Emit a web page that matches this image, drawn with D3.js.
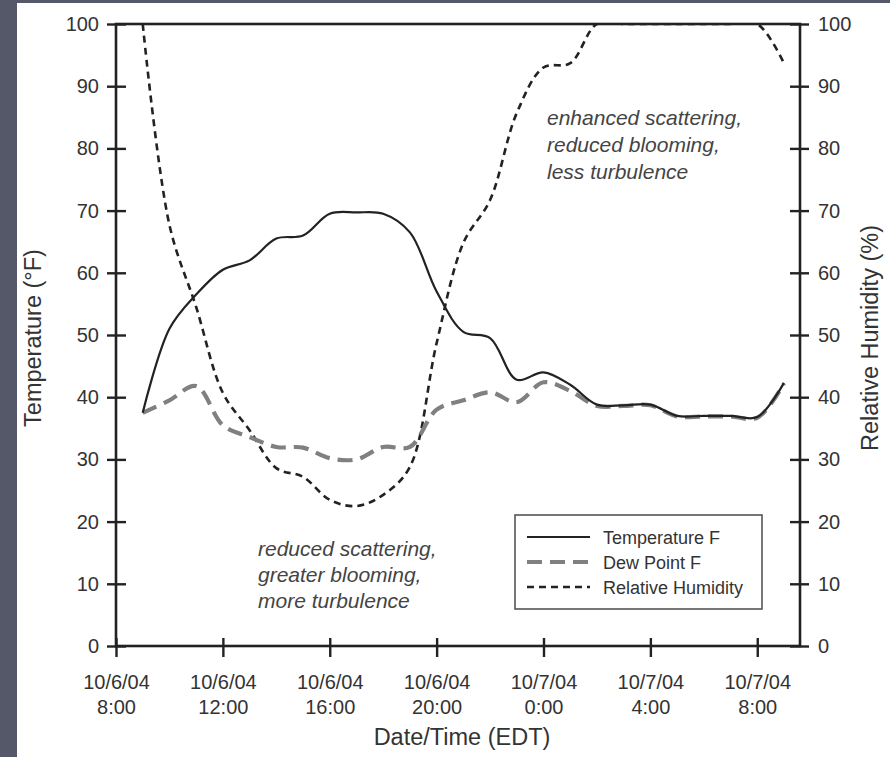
<!DOCTYPE html>
<html><head><meta charset="utf-8">
<script src="https://cdn.jsdelivr.net/npm/d3@7"></script>
<style>body{margin:0;background:#fff;} svg{display:block;font-family:"Liberation Sans",Arial,sans-serif;}</style>
</head><body>
<svg id="c" width="890" height="757"></svg>
<script>
// ---- data ----
const times = ["2004-10-06T09:00","2004-10-06T10:00","2004-10-06T11:00","2004-10-06T12:00","2004-10-06T13:00","2004-10-06T14:00","2004-10-06T15:00","2004-10-06T16:00","2004-10-06T17:00","2004-10-06T18:00","2004-10-06T19:00","2004-10-06T20:00","2004-10-06T21:00","2004-10-06T22:00","2004-10-06T23:00","2004-10-07T00:00","2004-10-07T01:00","2004-10-07T02:00","2004-10-07T03:00","2004-10-07T04:00","2004-10-07T05:00","2004-10-07T06:00","2004-10-07T07:00","2004-10-07T08:00","2004-10-07T09:00"];
const temperatureF = [37.5,51,56.5,60.5,62,65.5,66,69.5,69.7,69.5,66.5,57,50.5,49.5,42.8,44,42,38.8,38.7,38.8,37,37,37,36.8,42.3];
const dewPointF    = [37.5,39.5,41.8,35.5,33.6,32,31.9,30.2,30,32,32,38,39.5,40.8,39.2,42.4,41,38.6,38.6,38.7,36.9,36.9,36.9,36.7,42.2];
const relHumidity  = [100,67.7,54.5,40.7,34.7,28.6,27.2,23.5,22.5,24.3,28.8,48.7,64.8,71.7,85.7,93,93.7,100,100,100,100,100,100,100,93.7];
const yTicks = [0,10,20,30,40,50,60,70,80,90,100];
const xTickTimes = ["2004-10-06T08:00","2004-10-06T12:00","2004-10-06T16:00","2004-10-06T20:00","2004-10-07T00:00","2004-10-07T04:00","2004-10-07T08:00"];
const xDomain = ["2004-10-06T08:00","2004-10-07T09:36"];
const seriesNames = ["Temperature F","Dew Point F","Relative Humidity"];
const notesHigh = ["enhanced scattering,","reduced blooming,","less turbulence"];
const notesLow = ["reduced scattering,","greater blooming,","more turbulence"];

// ---- drawing ----
const parse = d3.timeParse("%Y-%m-%dT%H:%M");
const svg = d3.select("#c");
svg.append("rect").attr("width",890).attr("height",757).attr("fill","#555869");
svg.append("rect").attr("x",17).attr("y",3).attr("width",873).attr("height",754).attr("fill","#fff");

const L=116,R=800,T=24,B=646;
const x = d3.scaleTime().domain(xDomain.map(parse)).range([L,R]);
const y = d3.scaleLinear().domain([0,100]).range([B,T]);
const y2 = d3.scaleLinear().domain([0,100]).range([B,T]);
const txt = "#333";

svg.append("clipPath").attr("id","clip").append("rect").attr("x",L).attr("y",T).attr("width",R-L).attr("height",B-T);

const mk = arr => times.map((t,i)=>({t:parse(t),v:arr[i]}));
const lineL = d3.line().x(d=>x(d.t)).y(d=>y(d.v)).curve(d3.curveCatmullRom.alpha(0.5));
const lineR = d3.line().x(d=>x(d.t)).y(d=>y2(d.v)).curve(d3.curveCatmullRom.alpha(0.5));
const g = svg.append("g").attr("clip-path","url(#clip)");
g.append("path").datum(mk(relHumidity)).attr("d",lineR).attr("fill","none").attr("stroke","#222").attr("stroke-width",2.6).attr("stroke-dasharray","7,5");
g.append("path").datum(mk(dewPointF)).attr("d",lineL).attr("fill","none").attr("stroke","#808080").attr("stroke-width",4.2).attr("stroke-dasharray","15,8");
g.append("path").datum(mk(temperatureF)).attr("d",lineL).attr("fill","none").attr("stroke","#222").attr("stroke-width",2.2);

// frame
svg.append("rect").attr("x",L).attr("y",T).attr("width",R-L).attr("height",B-T).attr("fill","none").attr("stroke","#222").attr("stroke-width",2.6);

// left axis
const ax = svg.append("g").attr("transform",`translate(${L},0)`)
  .call(d3.axisLeft(y).tickValues(yTicks).tickSize(9).tickPadding(8));
ax.select(".domain").remove();
ax.selectAll(".tick line").attr("x2",-9).attr("x1",10).attr("stroke","#222").attr("stroke-width",2.4);
ax.selectAll(".tick text").attr("font-size",20).attr("fill",txt).attr("font-family","Liberation Sans, Arial");
// right axis
const ar = svg.append("g").attr("transform",`translate(${R},0)`)
  .call(d3.axisRight(y2).tickValues(yTicks).tickSize(9).tickPadding(9));
ar.select(".domain").remove();
ar.selectAll(".tick line").attr("x1",-10).attr("x2",9).attr("stroke","#222").attr("stroke-width",2.4);
ar.selectAll(".tick text").attr("font-size",20).attr("fill",txt).attr("font-family","Liberation Sans, Arial");
// bottom axis
const fmt1 = d3.timeFormat("%-m/%-d/%y"), fmt2 = d3.timeFormat("%-H:%M");
const ab = svg.append("g").attr("transform",`translate(0,${B})`)
  .call(d3.axisBottom(x).tickValues(xTickTimes.map(parse)).tickSize(11).tickFormat(""));
ab.select(".domain").remove();
ab.selectAll(".tick line").attr("y1",-8).attr("stroke","#222").attr("stroke-width",2.4);
ab.selectAll(".tick").each(function(d){
  const t = d3.select(this).append("text").attr("fill",txt).attr("font-size",20).attr("text-anchor","middle").attr("font-family","Liberation Sans, Arial");
  t.append("tspan").attr("x",0).attr("y",43).text(fmt1(d));
  t.append("tspan").attr("x",0).attr("y",68).text(fmt2(d));
});

// axis titles
svg.append("text").attr("x",(L+R)/2+4).attr("y",745).attr("text-anchor","middle").attr("font-size",23.5).attr("fill",txt).text("Date/Time (EDT)");
svg.append("text").attr("transform","translate(41,338) rotate(-90)").attr("text-anchor","middle").attr("font-size",23.5).attr("fill",txt).text("Temperature (°F)");
svg.append("text").attr("transform","translate(878,338) rotate(-90)").attr("text-anchor","middle").attr("font-size",23.5).attr("fill",txt).text("Relative Humidity (%)");

// annotations
notesHigh.forEach((s,i)=>svg.append("text").attr("x",547).attr("y",125+i*27).attr("font-size",21).attr("font-style","italic").attr("fill","#444").text(s));
notesLow.forEach((s,i)=>svg.append("text").attr("x",258).attr("y",556+i*26).attr("font-size",21).attr("font-style","italic").attr("fill","#444").text(s));

// legend
const lg = svg.append("g");
lg.append("rect").attr("x",515).attr("y",515).attr("width",247).attr("height",94).attr("fill","#fff").attr("stroke","#555").attr("stroke-width",1.6);
const styles = [{c:"#222",w:2.2,d:null},{c:"#808080",w:4.2,d:"15,8"},{c:"#222",w:2.6,d:"7,5"}];
seriesNames.forEach((s,i)=>{
  const yy = 537+i*25;
  lg.append("line").attr("x1",527).attr("x2",590).attr("y1",yy).attr("y2",yy).attr("stroke",styles[i].c).attr("stroke-width",styles[i].w).attr("stroke-dasharray",styles[i].d);
  lg.append("text").attr("x",603).attr("y",yy+6.5).attr("font-size",18).attr("fill",txt).text(s);
});
</script>
</body></html>
